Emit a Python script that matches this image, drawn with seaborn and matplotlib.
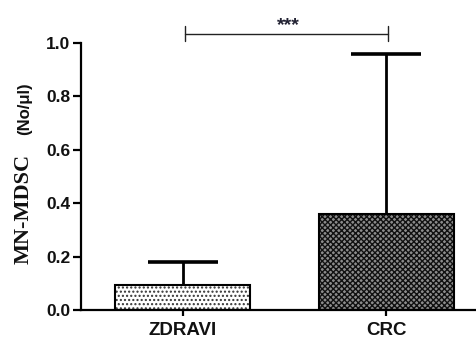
import matplotlib
matplotlib.use("Agg")
import matplotlib.pyplot as plt
import seaborn as sns
import pandas as pd

categories = ["ZDRAVI", "CRC"]
means = [0.095, 0.36]
errors = [0.083, 0.60]
yticks = [0.0, 0.2, 0.4, 0.6, 0.8, 1.0]
ylabel_main = "MN-MDSC"
ylabel_unit = "(No/\u03bcl)"
sig_text = "***"

sns.set_theme(style="white")
plt.rcParams["font.family"] = ["Liberation Sans", "DejaVu Sans"]
plt.rcParams["hatch.linewidth"] = 1.0

df = pd.DataFrame({"group": categories, "value": means})

fig = plt.figure(figsize=(4.76, 3.39), dpi=100)
ax = fig.add_axes([0.1702, 0.0855, 0.8298, 0.7876])

# error bars beneath bars (upper half visible only)
ax.errorbar(x=range(len(categories)), y=means, yerr=errors, fmt="none",
            ecolor="black", elinewidth=2.0, capsize=25.5, capthick=2.6,
            zorder=1)

# hatched fills
sns.barplot(data=df, x="group", y="value", ax=ax, errorbar=None,
            width=0.665, linewidth=0, zorder=2)
fills = ["white", "#8c8c8c"]
hatch_cols = ["#333333", "#111111"]
hatches = ["....", "x" * 6]
for p, fc, hc, h in zip(ax.patches, fills, hatch_cols, hatches):
    p.set_facecolor(fc)
    p.set_edgecolor(hc)
    p.set_hatch(h)
    p.set_linewidth(0)

# outlines
sns.barplot(data=df, x="group", y="value", ax=ax, errorbar=None,
            width=0.665, fill=False, edgecolor="black", linewidth=1.5,
            zorder=3)

ax.set_xlim(-0.502, 1.443)
ax.set_ylim(0, 1.0)
ax.set_yticks(yticks)
ax.set_yticklabels([f"{t:.1f}" for t in yticks])
ax.set_xlabel("")
ax.set_ylabel("")
for s in ["top", "right"]:
    ax.spines[s].set_visible(False)
for s in ["left", "bottom"]:
    ax.spines[s].set_linewidth(1.6)
    ax.spines[s].set_color("black")
ax.tick_params(axis="y", which="major", length=5.5, width=1.6,
               color="black", labelsize=12.5, pad=2, direction="out", left=True)
ax.tick_params(axis="x", which="major", length=4.5, width=1.6,
               color="black", labelsize=13.5, pad=4, direction="out", bottom=True)
for lab in ax.get_xticklabels() + ax.get_yticklabels():
    lab.set_fontweight("bold")
    lab.set_color("#111111")

# significance bracket
bx0, bx1, by = 0.01, 1.012, 1.034
ax.plot([bx0, bx1], [by, by], color="#222222", lw=1.0, clip_on=False)
ax.plot([bx0, bx0], [1.007, 1.064], color="#222222", lw=1.0, clip_on=False)
ax.plot([bx1, bx1], [1.007, 1.064], color="#222222", lw=1.0, clip_on=False)
ax.text(0.52, 1.035, sig_text, ha="center", va="bottom", fontsize=14,
        fontweight="bold", color="#222233", clip_on=False)

# y label in two fonts
fig.text(0.050, 0.383, ylabel_main, rotation=90, ha="center", va="center",
         fontsize=16, family=["Liberation Serif", "DejaVu Serif"],
         fontweight="bold", color="#111111")
fig.text(0.052, 0.678, ylabel_unit, rotation=90, ha="center", va="center",
         fontsize=12, fontweight="bold", color="#111111")

fig.savefig("out.png", dpi=100)
